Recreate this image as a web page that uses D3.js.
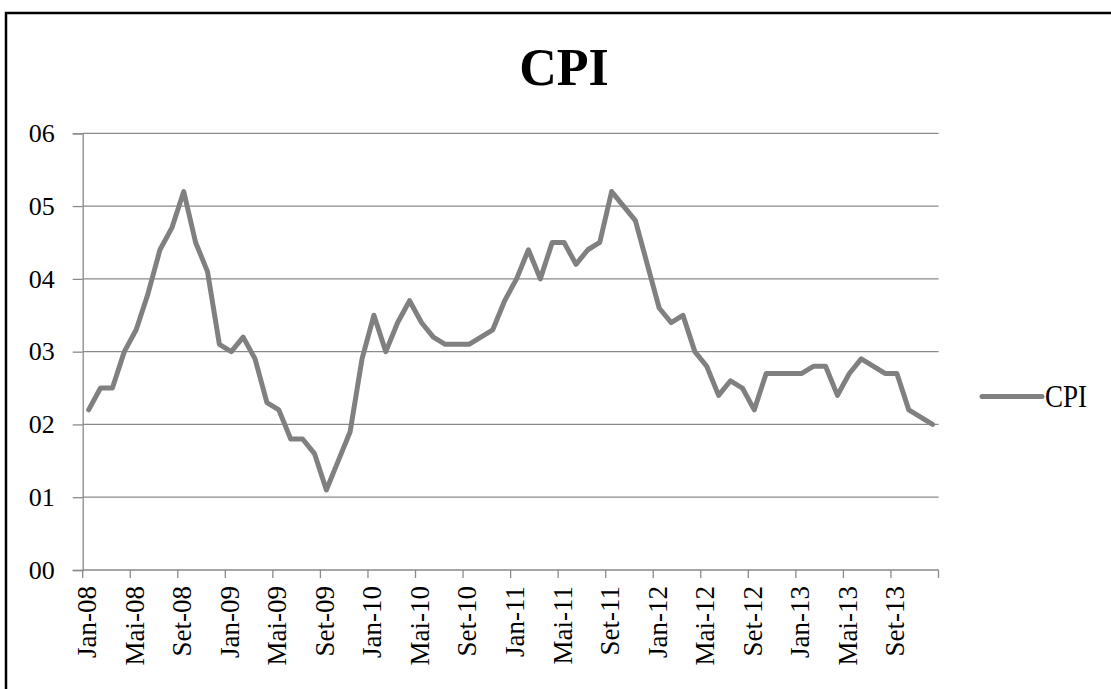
<!DOCTYPE html>
<html>
<head>
<meta charset="utf-8">
<script src="https://cdn.jsdelivr.net/npm/d3@7"></script>
<style>
  html, body { margin: 0; padding: 0; background: #fff; }
  svg { display: block; }
  text { font-family: "Liberation Serif", "Times New Roman", serif; fill: #000; }
</style>
</head>
<body>
<svg id="chart" width="1111" height="689"></svg>
<script>
const title = "CPI";
const seriesName = "CPI";
const months = [
  "Jan-08","Fev-08","Mar-08","Abr-08","Mai-08","Jun-08","Jul-08","Ago-08","Set-08","Out-08","Nov-08","Dez-08",
  "Jan-09","Fev-09","Mar-09","Abr-09","Mai-09","Jun-09","Jul-09","Ago-09","Set-09","Out-09","Nov-09","Dez-09",
  "Jan-10","Fev-10","Mar-10","Abr-10","Mai-10","Jun-10","Jul-10","Ago-10","Set-10","Out-10","Nov-10","Dez-10",
  "Jan-11","Fev-11","Mar-11","Abr-11","Mai-11","Jun-11","Jul-11","Ago-11","Set-11","Out-11","Nov-11","Dez-11",
  "Jan-12","Fev-12","Mar-12","Abr-12","Mai-12","Jun-12","Jul-12","Ago-12","Set-12","Out-12","Nov-12","Dez-12",
  "Jan-13","Fev-13","Mar-13","Abr-13","Mai-13","Jun-13","Jul-13","Ago-13","Set-13","Out-13","Nov-13","Dez-13"
];
const cpiValues = [
  2.2, 2.5, 2.5, 3.0, 3.3, 3.8, 4.4, 4.7, 5.2, 4.5, 4.1, 3.1,
  3.0, 3.2, 2.9, 2.3, 2.2, 1.8, 1.8, 1.6, 1.1, 1.5, 1.9, 2.9,
  3.5, 3.0, 3.4, 3.7, 3.4, 3.2, 3.1, 3.1, 3.1, 3.2, 3.3, 3.7,
  4.0, 4.4, 4.0, 4.5, 4.5, 4.2, 4.4, 4.5, 5.2, 5.0, 4.8, 4.2,
  3.6, 3.4, 3.5, 3.0, 2.8, 2.4, 2.6, 2.5, 2.2, 2.7, 2.7, 2.7,
  2.7, 2.8, 2.8, 2.4, 2.7, 2.9, 2.8, 2.7, 2.7, 2.2, 2.1, 2.0
];
const xTickLabels = ["Jan-08","Mai-08","Set-08","Jan-09","Mai-09","Set-09","Jan-10","Mai-10","Set-10",
  "Jan-11","Mai-11","Set-11","Jan-12","Mai-12","Set-12","Jan-13","Mai-13","Set-13"];
const yTickValues = [0, 1, 2, 3, 4, 5, 6];
const yTickLabels = ["00","01","02","03","04","05","06"];

const svg = d3.select("#chart");
const plotLeft = 82.7, plotRight = 938.5, plotTop = 133.3, plotBottom = 570;
const gridColor = "#8a8a8a";
const lineColor = "#808080";

// frame
svg.append("rect").attr("x", 6).attr("y", 13).attr("width", 1200).attr("height", 800)
  .attr("fill", "none").attr("stroke", "#000").attr("stroke-width", 2.5);

const x = d3.scaleBand().domain(months).range([plotLeft, plotRight]).paddingInner(0).paddingOuter(0);
const y = d3.scaleLinear().domain([0, 6]).range([plotBottom, plotTop]);

// gridlines
svg.append("g").selectAll("line").data(yTickValues.filter(v => v > 0)).join("line")
  .attr("x1", plotLeft).attr("x2", plotRight)
  .attr("y1", d => y(d)).attr("y2", d => y(d))
  .attr("stroke", gridColor).attr("stroke-width", 1.3);

// y axis
const yAxis = d3.axisLeft(y).tickValues(yTickValues)
  .tickFormat((d, i) => yTickLabels[i])
  .tickSize(10).tickPadding(18);
const gy = svg.append("g").attr("transform", `translate(${plotLeft},0)`).call(yAxis);
gy.select(".domain").attr("stroke", gridColor).attr("stroke-width", 1.3);
gy.selectAll(".tick line").attr("stroke", gridColor).attr("stroke-width", 1.3);
gy.selectAll(".tick text").attr("font-size", 26).attr("font-family", "Liberation Serif").attr("fill", "#000");

// x axis: tick marks at group boundaries every 4 months
const tickBoundaries = d3.range(0, months.length + 1, 4);
const gx = svg.append("g");
gx.append("line").attr("x1", plotLeft).attr("x2", plotRight).attr("y1", plotBottom).attr("y2", plotBottom)
  .attr("stroke", gridColor).attr("stroke-width", 1.3);
gx.selectAll("line.tk").data(tickBoundaries).join("line").attr("class", "tk")
  .attr("x1", i => i < months.length ? x(months[i]) : plotRight)
  .attr("x2", i => i < months.length ? x(months[i]) : plotRight)
  .attr("y1", plotBottom).attr("y2", plotBottom + 8)
  .attr("stroke", gridColor).attr("stroke-width", 1.3);
gx.selectAll("text").data(xTickLabels).join("text")
  .attr("transform", d => `translate(${x(d) + x.bandwidth() / 2 + 7.5},${plotBottom + 16}) rotate(-90)`)
  .attr("text-anchor", "end")
  .attr("font-size", 27)
  .text(d => d);

// line
const line = d3.line().x((d, i) => x(months[i]) + x.bandwidth() / 2).y(d => y(d));
svg.append("path").datum(cpiValues)
  .attr("d", line).attr("fill", "none")
  .attr("stroke", lineColor).attr("stroke-width", 5)
  .attr("stroke-linejoin", "round").attr("stroke-linecap", "round");

// title
svg.append("text").attr("x", 564).attr("y", 85).attr("text-anchor", "middle")
  .attr("font-size", 52).attr("font-weight", "bold").text(title);

// legend
svg.append("line").attr("x1", 982).attr("x2", 1042).attr("y1", 396.5).attr("y2", 396.5)
  .attr("stroke", lineColor).attr("stroke-width", 5).attr("stroke-linecap", "round");
svg.append("text").attr("transform", "translate(1045,407) scale(1,1.15)").attr("font-size", 27)
  .text(seriesName);
</script>
</body>
</html>
